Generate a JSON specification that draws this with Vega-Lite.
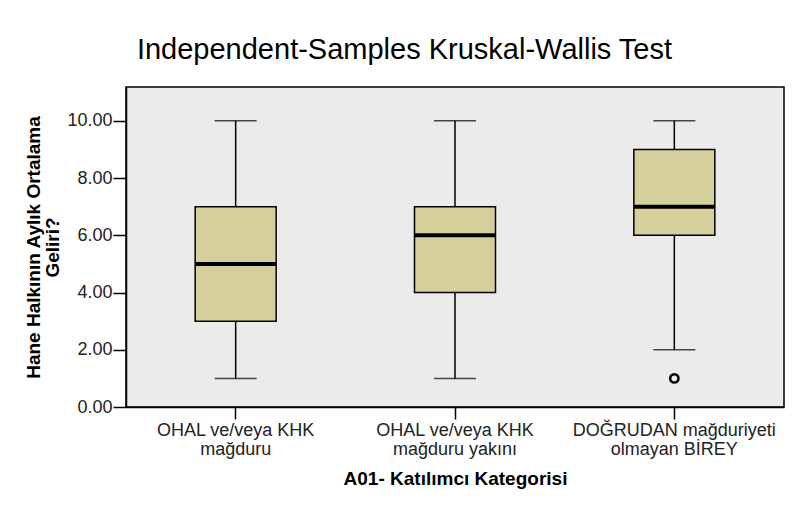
{
  "$schema": "https://vega.github.io/schema/vega-lite/v6.json",
  "width": 658,
  "height": 320,
  "autosize": {"type": "none"},
  "padding": {"left": 126, "top": 87, "right": 10, "bottom": 99},
  "background": "white",
  "config": {
    "font": "Liberation Sans",
    "view": {"fill": "#ebebeb", "stroke": "#000000", "strokeWidth": 1.5}
  },
  "title": {
    "text": "Independent-Samples Kruskal-Wallis Test",
    "font": "Liberation Sans",
    "fontSize": 29,
    "fontWeight": "normal",
    "color": "#000000",
    "anchor": "middle",
    "frame": "bounds",
    "offset": 22
  },
  "datasets": {
    "boxes": [
      {"cat": "OHAL ve/veya KHK mağduru", "min": 1, "q1": 3, "median": 5, "q3": 7, "max": 10},
      {"cat": "OHAL ve/veya KHK mağduru yakını", "min": 1, "q1": 4, "median": 6, "q3": 7, "max": 10},
      {"cat": "DOĞRUDAN mağduriyeti olmayan BİREY", "min": 2, "q1": 6, "median": 7, "q3": 9, "max": 10}
    ],
    "outliers": [
      {"cat": "DOĞRUDAN mağduriyeti olmayan BİREY", "value": 1}
    ]
  },
  "layer": [
    {
      "data": {"name": "boxes"},
      "mark": {"type": "rule", "color": "#000000", "strokeWidth": 1.5},
      "encoding": {
        "x": {
          "field": "cat",
          "type": "nominal",
          "sort": ["OHAL ve/veya KHK mağduru", "OHAL ve/veya KHK mağduru yakını", "DOĞRUDAN mağduriyeti olmayan BİREY"],
          "scale": {"paddingInner": 0, "paddingOuter": 0},
          "axis": {
            "title": "A01- Katılımcı Kategorisi",
            "titleFontSize": 19,
            "titleFontWeight": "bold",
            "titleColor": "#000000",
            "titlePadding": 11,
            "labelAngle": 0,
            "labelFontSize": 18,
            "labelColor": "#222222",
            "labelLineHeight": 19,
            "labelPadding": 2,
            "labelLimit": 0,
            "labelExpr": "datum.value == 'OHAL ve/veya KHK mağduru' ? ['OHAL ve/veya KHK', 'mağduru'] : datum.value == 'OHAL ve/veya KHK mağduru yakını' ? ['OHAL ve/veya KHK', 'mağduru yakını'] : ['DOĞRUDAN mağduriyeti', 'olmayan BİREY']",
            "tickSize": 12,
            "tickColor": "#000000",
            "tickWidth": 1.5,
            "domainColor": "#000000",
            "domainWidth": 1.5,
            "grid": false
          }
        },
        "y": {
          "field": "min",
          "type": "quantitative",
          "scale": {"domain": [0, 11.18], "nice": false, "zero": true},
          "axis": {
            "title": ["Hane Halkının Aylık Ortalama", "Geliri?"],
            "titleFontSize": 19,
            "titleFontWeight": "bold",
            "titleColor": "#000000",
            "titleLineHeight": 19,
            "titlePadding": 4,
            "values": [0, 2, 4, 6, 8, 10],
            "format": ".2f",
            "labelFontSize": 18,
            "labelColor": "#222222",
            "labelPadding": 1,
            "tickSize": 13,
            "tickColor": "#000000",
            "tickWidth": 1.5,
            "domainColor": "#000000",
            "domainWidth": 1.5,
            "grid": false
          }
        },
        "y2": {"field": "max"}
      }
    },
    {
      "data": {"name": "boxes"},
      "mark": {"type": "tick", "color": "#000000", "size": 42, "thickness": 1.5},
      "encoding": {
        "x": {"field": "cat", "type": "nominal", "sort": ["OHAL ve/veya KHK mağduru", "OHAL ve/veya KHK mağduru yakını", "DOĞRUDAN mağduriyeti olmayan BİREY"]},
        "y": {"field": "min", "type": "quantitative"}
      }
    },
    {
      "data": {"name": "boxes"},
      "mark": {"type": "tick", "color": "#000000", "size": 42, "thickness": 1.5},
      "encoding": {
        "x": {"field": "cat", "type": "nominal", "sort": ["OHAL ve/veya KHK mağduru", "OHAL ve/veya KHK mağduru yakını", "DOĞRUDAN mağduriyeti olmayan BİREY"]},
        "y": {"field": "max", "type": "quantitative"}
      }
    },
    {
      "data": {"name": "boxes"},
      "mark": {"type": "bar", "size": 81, "fill": "#d5d09b", "stroke": "#000000", "strokeWidth": 1.5},
      "encoding": {
        "x": {"field": "cat", "type": "nominal", "sort": ["OHAL ve/veya KHK mağduru", "OHAL ve/veya KHK mağduru yakını", "DOĞRUDAN mağduriyeti olmayan BİREY"]},
        "y": {"field": "q1", "type": "quantitative"},
        "y2": {"field": "q3"}
      }
    },
    {
      "data": {"name": "boxes"},
      "mark": {"type": "tick", "color": "#000000", "size": 81, "thickness": 4, "opacity": 1},
      "encoding": {
        "x": {"field": "cat", "type": "nominal", "sort": ["OHAL ve/veya KHK mağduru", "OHAL ve/veya KHK mağduru yakını", "DOĞRUDAN mağduriyeti olmayan BİREY"]},
        "y": {"field": "median", "type": "quantitative"}
      }
    },
    {
      "data": {"name": "outliers"},
      "mark": {"type": "point", "shape": "circle", "filled": false, "stroke": "#000000", "strokeWidth": 2.5, "size": 70, "opacity": 1},
      "encoding": {
        "x": {"field": "cat", "type": "nominal", "sort": ["OHAL ve/veya KHK mağduru", "OHAL ve/veya KHK mağduru yakını", "DOĞRUDAN mağduriyeti olmayan BİREY"]},
        "y": {"field": "value", "type": "quantitative"}
      }
    }
  ]
}
